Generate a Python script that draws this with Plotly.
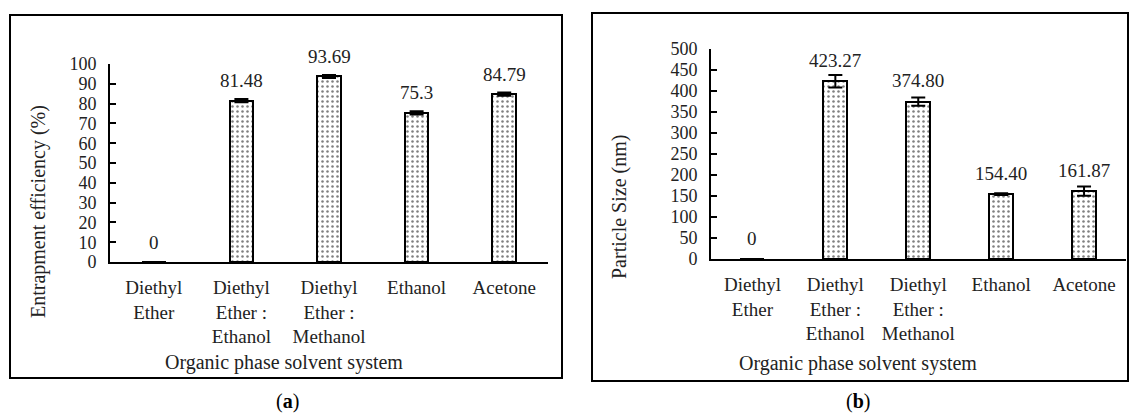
import plotly.graph_objects as go

# Solvent systems (shared category axis for both panels)
solvents = ["Diethyl Ether", "Diethyl Ether : Ethanol", "Diethyl Ether : Methanol", "Ethanol", "Acetone"]
solvent_labels = ["Diethyl<br>Ether", "Diethyl<br>Ether :<br>Ethanol", "Diethyl<br>Ether :<br>Methanol",
                  "Ethanol", "Acetone"]

# Panel (a): entrapment efficiency (%)
ee_values = [0, 81.48, 93.69, 75.3, 84.79]
ee_labels = ["0", "81.48", "93.69", "75.3", "84.79"]
ee_err = [0, 0.8, 0.8, 0.8, 0.8]

# Panel (b): particle size (nm)
ps_values = [0, 423.27, 374.80, 154.40, 161.87]
ps_labels = ["0", "423.27", "374.80", "154.40", "161.87"]
ps_err = [0, 15, 10, 2, 11]

W, H = 1131, 414
FONT = "Liberation Serif"


def px_x(v):
    return v / W


def px_y(v):
    return 1 - v / H


fig = go.Figure()

bar_style = dict(
    marker=dict(color="white", line=dict(color="black", width=2),
                pattern=dict(shape=".", fgcolor="black", bgcolor="white", size=5, solidity=0.2)),
    showlegend=False, hoverinfo="skip",
)

fig.add_trace(go.Bar(x=solvents, y=ee_values, width=0.27, xaxis="x", yaxis="y",
                     error_y=dict(type="data", array=ee_err, color="black", thickness=2, width=7),
                     **bar_style))
fig.add_trace(go.Bar(x=solvents, y=ps_values, width=0.29, xaxis="x2", yaxis="y2",
                     error_y=dict(type="data", array=ps_err, color="black", thickness=2, width=7),
                     **bar_style))

xaxis_common = dict(
    type="category", categoryorder="array", categoryarray=solvents,
    tickvals=solvents, ticktext=solvent_labels, range=[-0.5, 4.5], automargin=False,
    showline=True, linecolor="black", linewidth=2, ticks="", showgrid=False, zeroline=False,
    tickfont=dict(family=FONT, size=19, color="#222"), ticklabelstandoff=7,
)
yaxis_common = dict(
    automargin=False,
    showline=True, linecolor="black", linewidth=2, ticks="inside", ticklen=6, tickwidth=2,
    tickcolor="black", showgrid=False, zeroline=False,
    tickfont=dict(family=FONT, size=18, color="#222"), ticklabelstandoff=8,
)

fig.update_layout(
    width=W, height=H, margin=dict(l=0, r=0, t=0, b=0, autoexpand=False),
    paper_bgcolor="white", plot_bgcolor="white", bargap=0,
    font=dict(family=FONT),
    xaxis=dict(domain=[px_x(110), px_x(548)], anchor="y", **xaxis_common),
    yaxis=dict(domain=[px_y(262), px_y(64)], anchor="x", range=[0, 100], dtick=10, **yaxis_common),
    xaxis2=dict(domain=[px_x(711), px_x(1125.5)], anchor="y2", **xaxis_common),
    yaxis2=dict(domain=[px_y(259), px_y(49)], anchor="x2", range=[0, 500], dtick=50, **yaxis_common),
)

# Value labels above each bar
for cat, val, txt in zip(solvents, ee_values, ee_labels):
    fig.add_annotation(x=cat, y=val, xref="x", yref="y", text=txt, showarrow=False,
                       xanchor="center", yanchor="middle", yshift=20,
                       font=dict(family=FONT, size=19, color="#222"))
for cat, val, txt in zip(solvents, ps_values, ps_labels):
    fig.add_annotation(x=cat, y=val, xref="x2", yref="y2", text=txt, showarrow=False,
                       xanchor="center", yanchor="middle", yshift=21,
                       font=dict(family=FONT, size=19, color="#222"))


def paper_text(x, y, text, size=20, angle=0, color="#222"):
    fig.add_annotation(x=px_x(x), y=px_y(y), xref="paper", yref="paper", text=text,
                       textangle=angle, showarrow=False, xanchor="center", yanchor="middle",
                       font=dict(family=FONT, size=size, color=color))


# Axis titles
paper_text(38, 212, "Entrapment efficiency (%)", angle=-90)
paper_text(619, 207, "Particle Size (nm)", angle=-90)
paper_text(284, 362, "Organic phase solvent system")
paper_text(858, 363, "Organic phase solvent system")

# Panel letters
paper_text(287, 401, "(<b>a</b>)", color="black")
paper_text(858, 401, "(<b>b</b>)", color="black")

# Panel frames
for x0, y0, x1, y1 in [(10, 15, 562, 378), (592, 13, 1128, 381)]:
    fig.add_shape(type="rect", xref="paper", yref="paper",
                  x0=px_x(x0), x1=px_x(x1), y0=px_y(y1), y1=px_y(y0),
                  line=dict(color="black", width=2), fillcolor="rgba(0,0,0,0)")

fig.write_html("out.html")
